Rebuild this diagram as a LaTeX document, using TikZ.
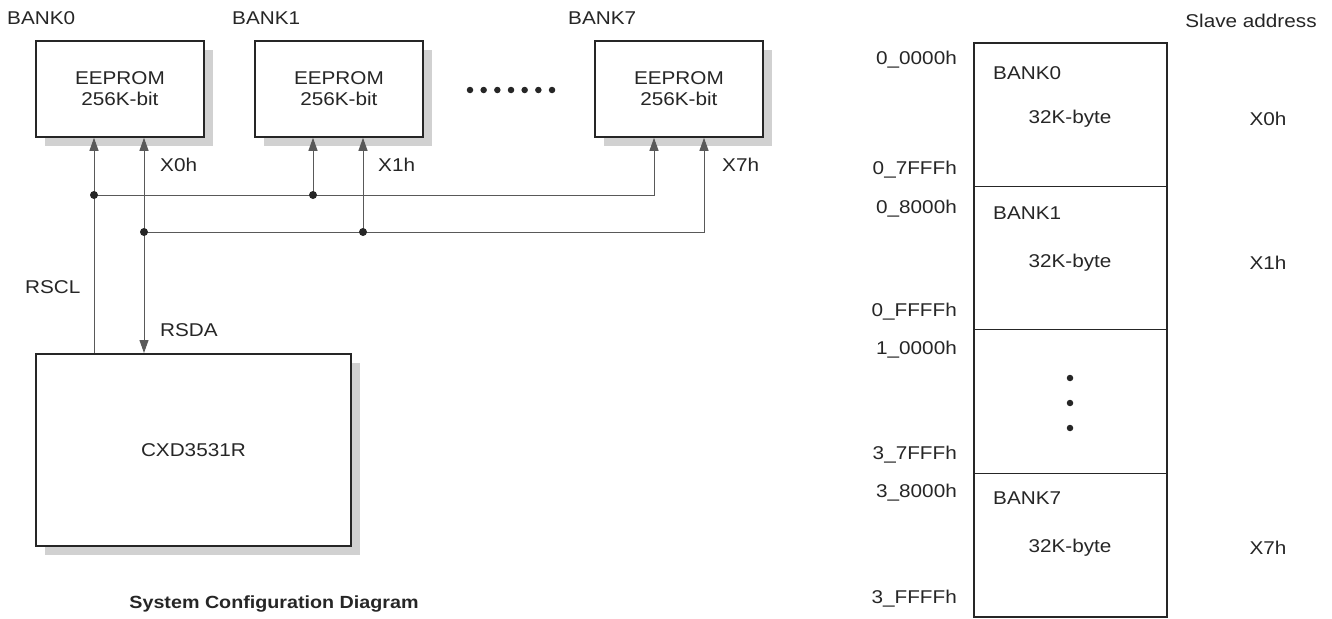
\documentclass[tikz,border=0pt]{standalone}
\usepackage{fontspec}
\setmainfont{Liberation Sans}[FakeStretch=1.12]
\usetikzlibrary{arrows.meta,shadows}
\begin{document}
\begin{tikzpicture}[x=1pt,y=-1pt,
  every node/.style={font=\fontsize{18.5}{21}\selectfont, text=black!85},
  txt/.style={inner sep=0pt},
  chip/.style={draw=black!85, line width=1.8pt, fill=white, inner sep=0pt, align=center,
    drop shadow={shadow xshift=9pt, shadow yshift=-9pt, fill=black!18, opacity=1}},
  conn/.style={draw=black!65, line width=1pt},
  tip/.style={-{Triangle[length=13pt,width=9pt]}},
  jdot/.style={circle, fill=black!85, inner sep=0pt, minimum size=8pt},
  edot/.style={circle, fill=black!85, inner sep=0pt, minimum size=6.5pt},
  mmline/.style={draw=black!85, line width=1pt},
  mmbox/.style={draw=black!85, line width=1.8pt}
]
\useasboundingbox (0,0) rectangle (1332,618);

% EEPROM boxes
\node[chip, minimum width=168pt, minimum height=96pt, anchor=north west] (b0) at (35,40) {EEPROM\\256K-bit};
\node[chip, minimum width=168pt, minimum height=96pt, anchor=north west] (b1) at (254,40) {EEPROM\\256K-bit};
\node[chip, minimum width=168pt, minimum height=96pt, anchor=north west] (b7) at (594,40) {EEPROM\\256K-bit};
\node[txt, anchor=west] (l0) at (7,18) {BANK0};
\node[txt, anchor=west] (l1) at (232,18) {BANK1};
\node[txt, anchor=west] (l7) at (568,18) {BANK7};

% horizontal ellipsis
\foreach \i in {0,...,6} {
  \node[edot] (hd\i) at (470+13.67*\i,90) {};
}

% CXD box
\node[chip, minimum width=315pt, minimum height=192pt, anchor=north west] (cxd) at (35,353) {CXD3531R};

% junction coordinates
\coordinate (ja) at (94,195);
\coordinate (jb) at (313,195);
\coordinate (jc) at (654,195);
\coordinate (jd) at (144,232);
\coordinate (je) at (363,232);
\coordinate (jf) at (704,232);

% RSCL bus
\draw[conn, tip] (cxd.north -| ja) -- (ja |- b0.south);
\draw[conn, tip] (jb) -- (jb |- b1.south);
\draw[conn, tip] (ja) -- (jc) -- (jc |- b7.south);
% RSDA bus
\draw[conn, tip] (jd) -- (jd |- b0.south);
\draw[conn, tip] (jd) -- (jd |- cxd.north);
\draw[conn, tip] (je) -- (je |- b1.south);
\draw[conn, tip] (jd) -- (jf) -- (jf |- b7.south);

\node[jdot] (dja) at (ja) {};
\node[jdot] (djb) at (jb) {};
\node[jdot] (djd) at (jd) {};
\node[jdot] (dje) at (je) {};

\node[txt, anchor=west] (x0) at (160,165) {X0h};
\node[txt, anchor=west] (x1) at (378,165) {X1h};
\node[txt, anchor=west] (x7) at (722,165) {X7h};
\node[txt, anchor=west] (rscl) at (25,287) {RSCL};
\node[txt, anchor=west] (rsda) at (160,330) {RSDA};

\node[txt, font=\fontsize{17.6}{21}\selectfont\bfseries] (title) at (274,604) {System Configuration Diagram};

% memory map
\draw[mmline] (974,186) -- (1167,186);
\draw[mmline] (974,329) -- (1167,329);
\draw[mmline] (974,473) -- (1167,473);
\draw[mmbox] (974,43) rectangle (1167,617);

\node[txt] (sa) at (1251,21) {Slave address};

\node[txt, anchor=east] (a1) at (957,60) {0\_0000h};
\node[txt, anchor=east] (a2) at (957,170) {0\_7FFFh};
\node[txt, anchor=east] (a3) at (957,209) {0\_8000h};
\node[txt, anchor=east] (a4) at (957,312) {0\_FFFFh};
\node[txt, anchor=east] (a5) at (957,350) {1\_0000h};
\node[txt, anchor=east] (a6) at (957,455) {3\_7FFFh};
\node[txt, anchor=east] (a7) at (957,493) {3\_8000h};
\node[txt, anchor=east] (a8) at (957,599) {3\_FFFFh};

\node[txt, anchor=west] (m0) at (993,73) {BANK0};
\node[txt, anchor=west] (m1) at (993,213) {BANK1};
\node[txt, anchor=west] (m7) at (993,498) {BANK7};

\node[txt] (k0) at (1070,119) {32K-byte};
\node[txt] (k1) at (1070,263) {32K-byte};
\node[txt] (k7) at (1070,548) {32K-byte};

\node[txt] (s0) at (1268,119) {X0h};
\node[txt] (s1) at (1268,263) {X1h};
\node[txt] (s7) at (1268,548) {X7h};

\node[edot] (vd1) at (1070,378) {};
\node[edot] (vd2) at (1070,403) {};
\node[edot] (vd3) at (1070,428) {};
\end{tikzpicture}
\end{document}
